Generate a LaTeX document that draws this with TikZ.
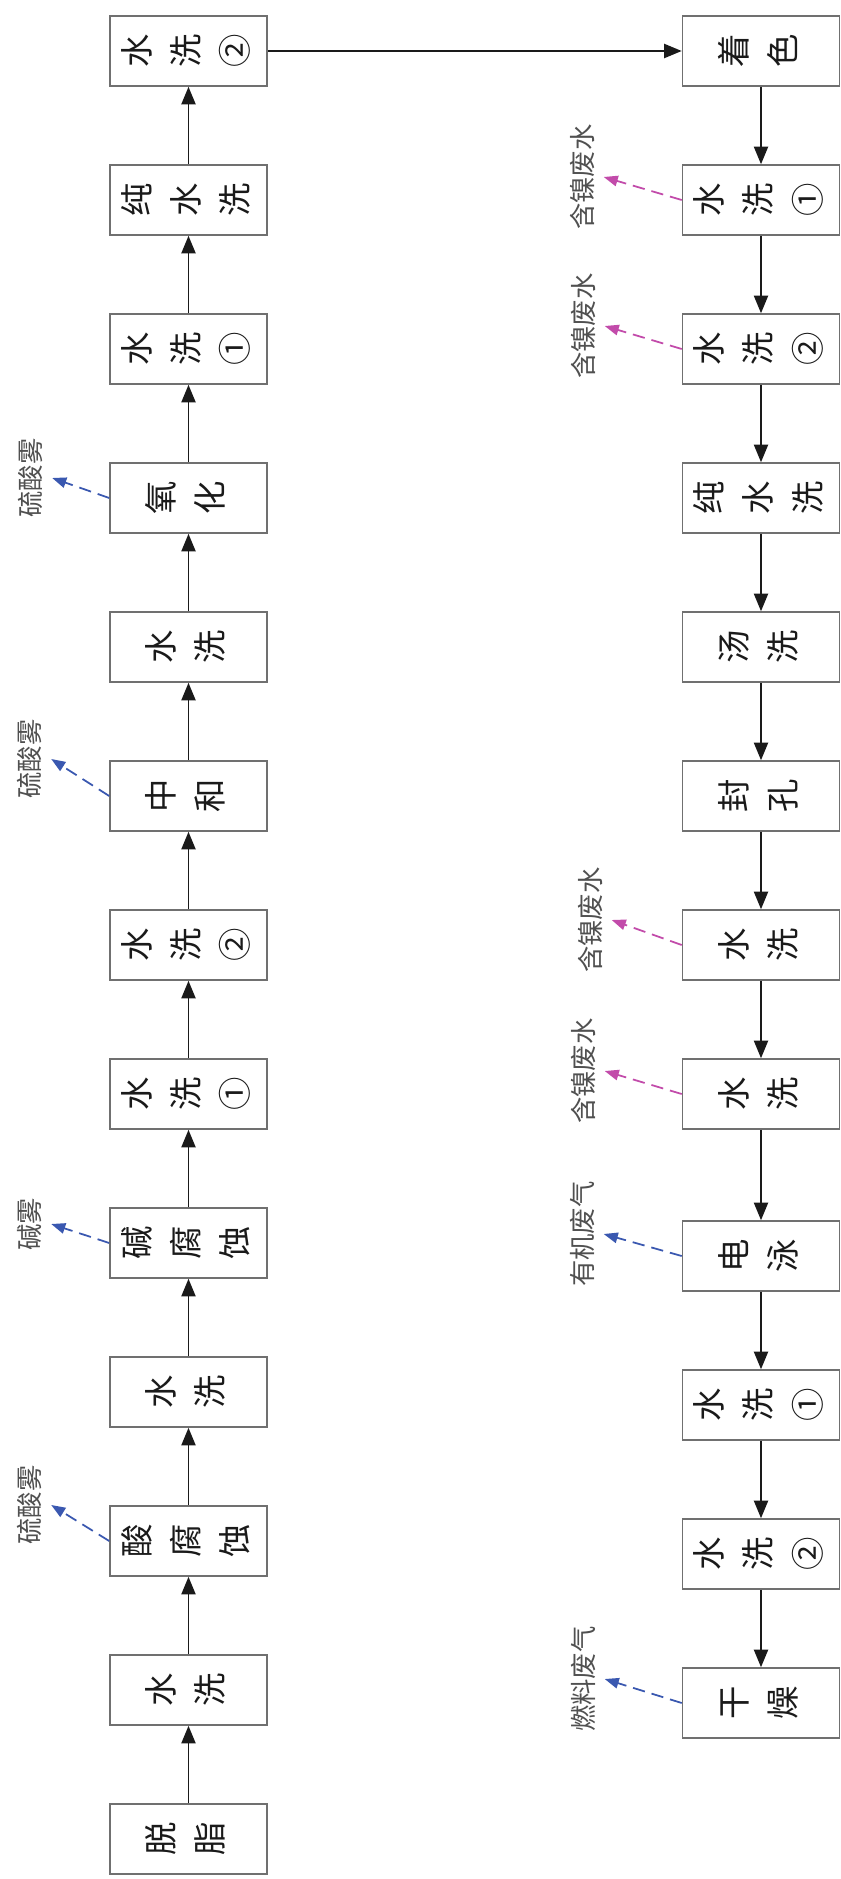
\documentclass[tikz,border=0pt]{standalone}
\usepackage{fontspec}
\setmainfont{Noto Sans CJK SC}
\usetikzlibrary{positioning, calc, arrows.meta}
\definecolor{Ink}{HTML}{1A1A1A}
\definecolor{Frame}{HTML}{707070}
\definecolor{Smoke}{HTML}{3A58B0}
\definecolor{Nickel}{HTML}{C24BAA}
\definecolor{Tag}{HTML}{505050}
\newcommand{\stk}[1]{\rotatebox{90}{\begin{tabular}{@{}c@{}}#1\end{tabular}}}
\tikzset{
    procbox/.style={rectangle, draw=Frame, line width=0.9pt, minimum width=3.14cm, minimum height=1.4cm, inner sep=0pt, font=\fontsize{19}{28}\selectfont, text=Ink},
    flow/.style={-{Triangle[length=10pt, width=8pt]}, line width=1.1pt, color=Ink},
    fume/.style={-{Triangle[length=8pt, width=6pt]}, line width=1pt, dash pattern=on 7pt off 4pt, color=Smoke},
    waste/.style={fume, color=Nickel},
    outtag/.style={rotate=90, anchor=south, inner sep=5pt, font=\fontsize{15}{18}\selectfont, text=Tag},
}
\begin{document}
\begin{tikzpicture}[x=0.02cm, y=-0.02cm]
    \useasboundingbox (0,0) rectangle (840,1879);

    % Colonna sinistra: pretrattamento e ossidazione
    \foreach \n/\y/\t in {1/51/{水\\洗\\②}, 2/200/{纯\\水\\洗}, 3/349/{水\\洗\\①}, 4/498/{氧\\化}, 5/647/{水\\洗}, 6/796/{中\\和}, 7/945/{水\\洗\\②}, 8/1094/{水\\洗\\①}, 9/1243/{碱\\腐\\蚀}, 10/1392/{水\\洗}, 11/1541/{酸\\腐\\蚀}, 12/1690/{水\\洗}, 13/1839/{脱\\脂}}
        \node[procbox] (L\n) at (188.5,\y) {\stk{\t}};

    % Colonna destra: colorazione e finitura
    \foreach \n/\y/\t in {1/51/{着\\色}, 2/200/{水\\洗\\①}, 3/349/{水\\洗\\②}, 4/498/{纯\\水\\洗}, 5/647/{汤\\洗}, 6/796/{封\\孔}, 7/945/{水\\洗}, 8/1094/{水\\洗}, 9/1256/{电\\泳}, 10/1405/{水\\洗\\①}, 11/1554/{水\\洗\\②}, 12/1703/{干\\燥}}
        \node[procbox] (R\n) at (761,\y) {\stk{\t}};

    % Flusso principale
    \foreach \i in {2,...,13}{
        \pgfmathtruncatemacro{\j}{\i-1}
        \draw[flow] (L\i) -- (L\j);
    }
    \draw[flow] (L1) -- (R1);
    \foreach \i in {1,...,11}{
        \pgfmathtruncatemacro{\j}{\i+1}
        \draw[flow] (R\i) -- (R\j);
    }

    % Emissioni
    \foreach \b/\dx/\dy/\s/\t in {L4/-57/-20/fume/硫酸雾, L6/-58/-37/fume/硫酸雾, L9/-58/-19/fume/碱雾, L11/-58/-36/fume/硫酸雾, R2/-78/-23/waste/含镍废水, R3/-77/-23/waste/含镍废水, R7/-70/-25/waste/含镍废水, R8/-77/-23/waste/含镍废水, R9/-78/-22/fume/有机废气, R12/-77/-24/fume/燃料废气}{
        \node[outtag] (T\b) at ($(\b.west)+(\dx,\dy)$) {\t};
        \draw[\s] (\b.west) -- (T\b.south);
    }
\end{tikzpicture}
\end{document}
